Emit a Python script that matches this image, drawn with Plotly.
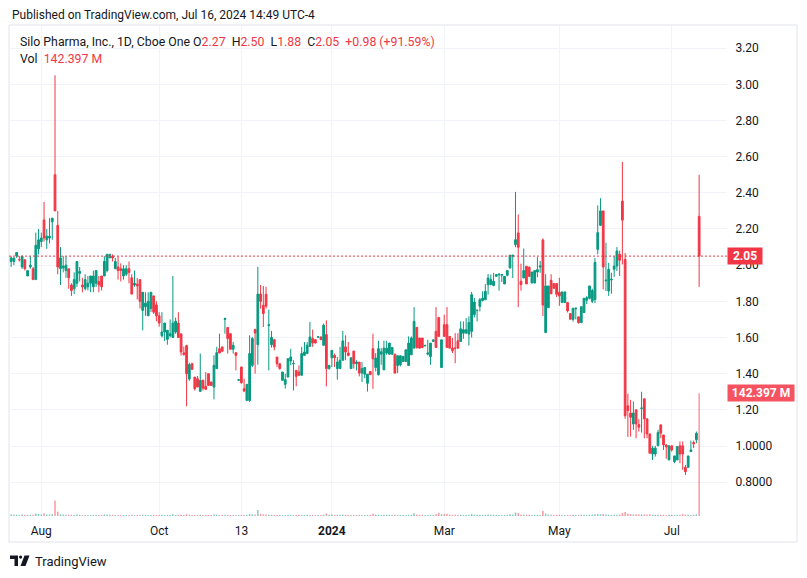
import pandas as pd
import plotly.graph_objects as go

# ---------------- data ----------------
holidays = ["2023-09-04", "2023-11-23", "2023-12-25", "2024-01-01", "2024-01-15",
            "2024-02-19", "2024-03-29", "2024-05-27", "2024-06-19", "2024-07-04"]
dates = pd.bdate_range("2023-07-17", "2024-07-16", freq="C",
                       holidays=holidays).strftime("%Y-%m-%d").tolist()

opens = [
    2.02, 2.02, 2.05, 2.03, 1.99, 2.03, 1.94, 1.99, 1.98, 1.92,
    2.09, 2.13, 2.25, 2.14, 2.15, 2.24, 2.50, 2.22, 1.98, 1.985,
    1.97, 1.98, 1.89, 1.87, 1.90, 1.955, 1.89, 1.87, 1.88, 1.90,
    1.88, 1.90, 1.91, 1.94, 1.94, 1.97, 2.04, 2.05, 1.98, 1.99,
    1.98, 1.94, 1.95, 1.98, 1.93, 1.89, 1.895, 1.92, 1.75, 1.77,
    1.72, 1.76, 1.83, 1.78, 1.72, 1.61, 1.63, 1.59, 1.61, 1.60,
    1.63, 1.68, 1.62, 1.515, 1.555, 1.37, 1.455, 1.381, 1.372, 1.302,
    1.363, 1.330, 1.400, 1.354, 1.326, 1.428, 1.538, 1.548, 1.700, 1.655,
    1.621, 1.535, 1.516, 1.364, 1.437, 1.317, 1.252, 1.252, 1.446, 1.645,
    1.56, 1.84, 1.778, 1.839, 1.666, 1.56, 1.588, 1.492, 1.455, 1.363,
    1.341, 1.381, 1.470, 1.454, 1.418, 1.409, 1.391, 1.501, 1.511, 1.551,
    1.594, 1.588, 1.602, 1.603, 1.557, 1.616, 1.428, 1.488, 1.501, 1.428,
    1.428, 1.474, 1.548, 1.514, 1.428, 1.525, 1.455, 1.464, 1.403, 1.397,
    1.347, 1.412, 1.538, 1.434, 1.394, 1.508, 1.421, 1.514, 1.508, 1.508,
    1.508, 1.445, 1.449, 1.467, 1.467, 1.445, 1.504, 1.541, 1.656, 1.597,
    1.597, 1.554, 1.508, 1.495, 1.578, 1.634, 1.711, 1.434, 1.671, 1.671,
    1.606, 1.541, 1.542, 1.582, 1.578, 1.624, 1.624, 1.619, 1.634, 1.726,
    1.749, 1.772, 1.804, 1.809, 1.892, 1.892, 1.888, 1.938, 1.947, 1.944,
    1.896, 1.944, 1.984, 2.049, 2.114, 2.178, 1.911, 1.929, 1.994, 1.988,
    1.901, 1.901, 1.962, 1.99, 2.139, 1.627, 1.765, 1.916, 1.898, 1.898,
    1.85, 1.793, 1.793, 1.793, 1.732, 1.70, 1.758, 1.714, 1.682, 1.738,
    1.806, 1.817, 1.80, 1.81, 2.087, 2.22, 2.30, 1.913, 1.857, 1.918,
    1.977, 1.995, 2.06, 2.354, 2.032, 1.222, 1.182, 1.122, 1.20, 1.119,
    1.208, 1.261, 1.150, 1.067, 0.956, 0.956, 1.001, 1.117, 1.061, 1.005,
    0.923, 1.001, 0.914, 0.923, 1.001, 1.001, 0.882, 0.882, 0.969, 1.019,
    1.034, 2.27,
]
highs = [
    2.05, 2.04, 2.07, 2.05, 2.05, 2.03, 1.97, 2.05, 1.99, 2.18,
    2.20, 2.18, 2.35, 2.20, 2.26, 2.26, 3.05, 2.30, 2.10, 2.05,
    2.05, 1.98, 1.90, 1.96, 2.02, 1.99, 1.93, 1.95, 1.94, 1.94,
    1.97, 1.97, 1.94, 1.94, 2.05, 2.06, 2.06, 2.06, 2.04, 2.05,
    2.01, 2.00, 2.00, 2.02, 1.95, 1.97, 1.93, 1.92, 1.85, 1.85,
    1.85, 1.85, 1.83, 1.80, 1.74, 1.74, 1.68, 1.64, 1.70, 1.94,
    1.71, 1.74, 1.62, 1.55, 1.56, 1.46, 1.46, 1.381, 1.387, 1.511,
    1.368, 1.409, 1.400, 1.354, 1.501, 1.548, 1.621, 1.548, 1.71, 1.655,
    1.621, 1.575, 1.516, 1.37, 1.437, 1.372, 1.341, 1.612, 1.603, 1.645,
    1.99, 1.89, 1.885, 1.880, 1.754, 1.636, 1.588, 1.492, 1.455, 1.409,
    1.40, 1.483, 1.538, 1.474, 1.418, 1.446, 1.548, 1.575, 1.575, 1.686,
    1.644, 1.588, 1.605, 1.605, 1.677, 1.695, 1.446, 1.529, 1.511, 1.492,
    1.548, 1.636, 1.612, 1.575, 1.488, 1.525, 1.474, 1.464, 1.464, 1.434,
    1.397, 1.412, 1.621, 1.514, 1.582, 1.541, 1.582, 1.582, 1.569, 1.545,
    1.508, 1.499, 1.499, 1.499, 1.532, 1.606, 1.606, 1.768, 1.656, 1.597,
    1.597, 1.56, 1.587, 1.569, 1.587, 1.768, 1.711, 1.587, 1.726, 1.768,
    1.606, 1.597, 1.624, 1.624, 1.689, 1.689, 1.707, 1.717, 1.852, 1.818,
    1.751, 1.818, 1.855, 1.896, 1.951, 1.948, 1.957, 1.951, 1.957, 1.951,
    1.938, 1.970, 2.055, 2.055, 2.405, 2.280, 2.008, 2.092, 1.994, 1.994,
    1.962, 1.970, 2.044, 2.023, 2.148, 1.95, 1.885, 1.95, 1.898, 1.898,
    1.93, 1.852, 1.852, 1.793, 1.732, 1.762, 1.762, 1.714, 1.770, 1.817,
    1.829, 1.885, 1.87, 2.04, 2.33, 2.37, 2.30, 2.124, 2.013, 1.958,
    2.05, 2.10, 2.08, 2.571, 2.067, 1.289, 1.255, 1.246, 1.20, 1.148,
    1.30, 1.261, 1.150, 1.067, 1.001, 1.001, 1.089, 1.117, 1.061, 1.01,
    1.001, 1.001, 0.945, 0.997, 1.025, 1.025, 0.895, 0.945, 1.030, 1.030,
    1.080, 2.50,
]
lows = [
    1.99, 2.00, 2.04, 2.02, 1.98, 1.97, 1.94, 1.98, 1.92, 1.92,
    2.06, 2.10, 2.13, 2.09, 2.12, 2.14, 2.30, 1.95, 1.89, 1.96,
    1.93, 1.87, 1.83, 1.84, 1.88, 1.91, 1.85, 1.86, 1.86, 1.85,
    1.85, 1.88, 1.85, 1.86, 1.94, 1.96, 2.04, 2.02, 1.98, 1.92,
    1.91, 1.92, 1.94, 1.90, 1.84, 1.88, 1.81, 1.76, 1.64, 1.72,
    1.72, 1.74, 1.73, 1.69, 1.66, 1.60, 1.58, 1.56, 1.60, 1.60,
    1.62, 1.60, 1.50, 1.50, 1.22, 1.36, 1.42, 1.307, 1.326, 1.302,
    1.307, 1.313, 1.335, 1.335, 1.258, 1.428, 1.514, 1.52, 1.621, 1.511,
    1.535, 1.511, 1.418, 1.36, 1.344, 1.298, 1.252, 1.243, 1.437, 1.40,
    1.45, 1.76, 1.658, 1.760, 1.418, 1.544, 1.529, 1.437, 1.422, 1.363,
    1.317, 1.381, 1.446, 1.307, 1.330, 1.391, 1.391, 1.501, 1.511, 1.551,
    1.548, 1.566, 1.60, 1.588, 1.557, 1.330, 1.422, 1.437, 1.437, 1.367,
    1.428, 1.474, 1.474, 1.496, 1.428, 1.428, 1.418, 1.385, 1.354, 1.375,
    1.301, 1.394, 1.316, 1.412, 1.390, 1.449, 1.421, 1.504, 1.504, 1.504,
    1.403, 1.403, 1.440, 1.467, 1.467, 1.445, 1.504, 1.541, 1.538, 1.541,
    1.541, 1.55, 1.501, 1.449, 1.578, 1.545, 1.606, 1.434, 1.606, 1.545,
    1.541, 1.514, 1.458, 1.541, 1.578, 1.593, 1.624, 1.556, 1.600, 1.711,
    1.689, 1.744, 1.800, 1.809, 1.837, 1.892, 1.883, 1.938, 1.859, 1.907,
    1.896, 1.938, 1.984, 1.929, 2.099, 1.768, 1.859, 1.929, 1.896, 1.938,
    1.901, 1.901, 1.933, 1.958, 1.719, 1.627, 1.765, 1.84, 1.87, 1.824,
    1.775, 1.793, 1.793, 1.738, 1.701, 1.688, 1.70, 1.677, 1.682, 1.738,
    1.785, 1.811, 1.79, 1.79, 2.06, 2.22, 1.866, 1.857, 1.83, 1.842,
    1.935, 1.967, 1.94, 2.004, 1.15, 1.05, 1.052, 1.089, 1.043, 1.08,
    1.074, 1.043, 1.043, 0.960, 0.923, 0.941, 1.001, 1.043, 0.978, 0.93,
    0.923, 0.969, 0.905, 0.923, 0.905, 0.868, 0.840, 0.882, 0.969, 0.988,
    1.015, 1.88,
]
closes = [
    2.04, 2.04, 2.07, 2.03, 2.05, 1.98, 1.97, 2.00, 1.92, 2.11,
    2.14, 2.15, 2.15, 2.16, 2.16, 2.26, 2.30, 1.99, 2.04, 1.995,
    2.00, 1.93, 1.86, 1.92, 2.02, 1.965, 1.88, 1.92, 1.90, 1.94,
    1.94, 1.97, 1.89, 1.88, 2.02, 2.06, 2.06, 2.04, 2.02, 1.97,
    1.97, 1.98, 1.98, 1.96, 1.84, 1.90, 1.885, 1.80, 1.85, 1.79,
    1.80, 1.85, 1.74, 1.72, 1.68, 1.63, 1.68, 1.64, 1.62, 1.68,
    1.69, 1.60, 1.52, 1.505, 1.40, 1.45, 1.424, 1.317, 1.326, 1.363,
    1.320, 1.313, 1.335, 1.335, 1.446, 1.516, 1.514, 1.524, 1.705, 1.594,
    1.535, 1.557, 1.501, 1.366, 1.350, 1.304, 1.341, 1.511, 1.594, 1.625,
    1.84, 1.80, 1.732, 1.773, 1.670, 1.60, 1.548, 1.455, 1.428, 1.409,
    1.367, 1.483, 1.492, 1.456, 1.385, 1.391, 1.511, 1.520, 1.557, 1.603,
    1.570, 1.570, 1.604, 1.588, 1.668, 1.428, 1.446, 1.529, 1.488, 1.464,
    1.474, 1.581, 1.520, 1.501, 1.488, 1.455, 1.464, 1.403, 1.428, 1.434,
    1.397, 1.394, 1.482, 1.486, 1.538, 1.521, 1.541, 1.541, 1.569, 1.545,
    1.403, 1.499, 1.499, 1.495, 1.532, 1.569, 1.597, 1.689, 1.545, 1.541,
    1.545, 1.556, 1.514, 1.569, 1.587, 1.545, 1.606, 1.587, 1.606, 1.545,
    1.541, 1.527, 1.540, 1.541, 1.648, 1.643, 1.643, 1.683, 1.837, 1.796,
    1.751, 1.809, 1.818, 1.855, 1.929, 1.920, 1.911, 1.948, 1.949, 1.948,
    1.938, 1.970, 2.055, 2.055, 2.141, 2.099, 1.892, 1.970, 1.896, 1.938,
    1.962, 1.970, 1.975, 1.995, 1.779, 1.885, 1.885, 1.842, 1.872, 1.839,
    1.83, 1.852, 1.852, 1.747, 1.701, 1.762, 1.762, 1.682, 1.770, 1.817,
    1.820, 1.885, 1.86, 2.015, 2.18, 2.30, 1.99, 1.917, 1.977, 1.922,
    1.995, 2.078, 2.027, 2.249, 1.167, 1.196, 1.159, 1.182, 1.122, 1.104,
    1.210, 1.150, 1.067, 0.960, 0.988, 0.988, 1.074, 1.071, 1.006, 0.995,
    1.001, 0.978, 0.945, 0.997, 0.956, 0.956, 0.858, 0.945, 0.978, 1.012,
    1.07, 2.05,
]
volumes_m = [
    1.6, 1.4, 1.5, 1.3, 1.7, 1.5, 1.3, 1.4, 1.5, 3.0,
    2.4, 1.8, 3.2, 1.6, 1.7, 2.2, 18.0, 5.0, 2.0, 1.6,
    1.5, 1.5, 1.4, 1.3, 1.6, 1.3, 1.2, 1.2, 1.3, 1.2,
    1.3, 1.4, 1.2, 1.2, 1.8, 1.6, 1.4, 1.3, 1.2, 1.3,
    1.2, 1.2, 1.2, 1.3, 1.5, 1.2, 1.2, 1.4, 1.6, 1.3,
    1.2, 1.3, 1.2, 1.2, 1.3, 1.5, 1.3, 1.2, 1.2, 2.0,
    1.3, 1.3, 1.4, 1.2, 2.1, 1.5, 1.2, 1.3, 1.2, 1.6,
    1.2, 1.2, 1.2, 1.1, 1.7, 1.6, 1.3, 1.2, 1.5, 1.4,
    1.2, 1.2, 1.3, 1.2, 1.4, 1.3, 1.5, 2.4, 2.1, 1.8,
    7.0, 2.6, 1.8, 1.6, 1.5, 1.3, 1.3, 1.2, 1.2, 1.2,
    1.2, 1.4, 1.3, 1.2, 1.2, 1.4, 1.3, 1.3, 1.5, 1.3,
    1.2, 1.2, 1.1, 1.2, 1.6, 3.0, 1.4, 1.6, 1.3, 1.3,
    1.4, 1.7, 1.4, 1.3, 1.3, 1.3, 1.2, 1.3, 1.3, 1.2,
    1.2, 1.2, 2.6, 1.5, 1.6, 1.3, 1.5, 1.4, 1.3, 1.2,
    1.4, 1.3, 1.2, 1.2, 1.3, 1.5, 1.4, 3.2, 1.8, 1.4,
    1.3, 1.2, 1.2, 1.4, 1.2, 2.1, 3.6, 2.1, 2.0, 2.6,
    1.5, 1.3, 1.4, 1.3, 1.5, 1.3, 1.3, 1.4, 2.2, 1.6,
    1.4, 1.4, 1.3, 1.5, 1.8, 1.5, 1.4, 1.3, 1.3, 1.3,
    1.3, 1.4, 1.9, 1.7, 4.0, 3.6, 1.8, 1.6, 1.5, 1.4,
    1.3, 1.3, 1.4, 1.3, 6.0, 3.0, 1.8, 1.5, 1.3, 1.4,
    1.4, 1.3, 1.2, 1.3, 1.3, 1.4, 1.3, 1.3, 1.5, 1.4,
    1.3, 1.5, 1.4, 2.1, 2.2, 2.0, 2.4, 1.6, 1.5, 1.4,
    1.4, 1.5, 1.6, 3.6, 4.6, 3.0, 2.2, 1.8, 2.1, 1.8,
    1.9, 1.7, 1.6, 2.0, 1.5, 1.4, 1.5, 1.4, 1.4, 1.3,
    1.4, 1.3, 1.3, 1.5, 1.4, 2.2, 1.6, 1.5, 1.3, 1.6,
    2.1, 142.397,
]

tick_dates = ["2023-08-01", "2023-10-02", "2023-11-13", "2024-01-02",
              "2024-03-01", "2024-05-01", "2024-07-01"]
tick_text = ["Aug", "Oct", "13", "<b>2024</b>", "Mar", "May", "Jul"]
price_ticks = [0.8, 1.0, 1.2, 1.4, 1.6, 1.8, 2.0, 2.2, 2.4, 2.6, 2.8, 3.0, 3.2]
price_text = ["0.8000", "1.0000", "1.20", "1.40", "1.60", "1.80", "2.00",
              "2.20", "2.40", "2.60", "2.80", "3.00", "3.20"]

last_close = 2.05
last_volume = 142.397

# ---------------- style ----------------
UP = "#089981"
DOWN = "#F23645"
UP_VOL = "rgba(8,153,129,0.5)"
DOWN_VOL = "rgba(242,54,69,0.5)"
TXT = "#131722"
GRID = "#F0F3FA"
FONT = "Roboto"

FW, FH = 807, 578
L, R, T, B = 9, 727, 26, 516


def px(xp):
    return (xp - L) / (R - L)


def py(yp):
    return (B - yp) / (B - T)


vol_colors = [UP_VOL if c >= o else DOWN_VOL for o, c in zip(opens, closes)]

fig = go.Figure()
fig.add_trace(go.Bar(
    x=dates, y=volumes_m, yaxis="y2", marker_color=vol_colors,
    marker_line_width=0, width=0.55, hoverinfo="skip",
))
fig.add_trace(go.Candlestick(
    x=dates, open=opens, high=highs, low=lows, close=closes,
    increasing=dict(line=dict(color=UP, width=1), fillcolor=UP),
    decreasing=dict(line=dict(color=DOWN, width=1), fillcolor=DOWN),
    whiskerwidth=0, hoverinfo="skip",
))

ymin = 1 - (B - 446) / 180.85
ymax = 1 + (446 - T) / 180.85
xmin = (L - 11.15) / 2.741
xmax = (R - 11.15) / 2.741

fig.update_layout(
    width=FW, height=FH,
    margin=dict(l=L, r=FW - R, t=T, b=FH - B, pad=0),
    paper_bgcolor="white", plot_bgcolor="white",
    showlegend=False, hovermode=False, boxgap=0.2, boxgroupgap=0.2,
    font=dict(family=FONT, color=TXT, size=12),
    xaxis=dict(
        type="category", range=[xmin, xmax], rangeslider=dict(visible=False),
        tickvals=tick_dates, ticktext=tick_text, showgrid=True, gridcolor=GRID,
        gridwidth=1, zeroline=False, showline=False, ticks="outside", ticklen=4,
        tickcolor="rgba(0,0,0,0)", tickfont=dict(family=FONT, size=12, color=TXT),
        fixedrange=True,
    ),
    yaxis=dict(
        side="right", range=[ymin, ymax], tickvals=price_ticks, ticktext=price_text,
        showgrid=True, gridcolor=GRID, gridwidth=1, zeroline=False, showline=False,
        ticks="outside", ticklen=5, tickcolor="rgba(0,0,0,0)",
        tickfont=dict(family=FONT, size=12, color=TXT), fixedrange=True,
    ),
    yaxis2=dict(overlaying="y", range=[0, last_volume / ((B - 393.3) / (B - T))],
                visible=False, fixedrange=True),
)

shapes = []
# chart frame
shapes.append(dict(type="rect", xref="paper", yref="paper",
                   x0=px(9), x1=px(797), y0=py(25), y1=py(542),
                   line=dict(color="#E0E3EB", width=1), layer="below"))
# last price line
shapes.append(dict(type="line", xref="paper", yref="y", x0=0, x1=1,
                   y0=last_close, y1=last_close,
                   line=dict(color=DOWN, width=1, dash="2px,2px")))
# TradingView logo
shapes.append(dict(type="path", xref="paper", yref="paper", fillcolor=TXT, line_width=0,
                   path="M {} {} L {} {} L {} {} L {} {} L {} {} L {} {} Z".format(
                       px(10), py(555.5), px(18), py(555.5), px(18), py(566),
                       px(14.5), py(566), px(14.5), py(559), px(10), py(559))))
shapes.append(dict(type="circle", xref="paper", yref="paper", fillcolor=TXT, line_width=0,
                   x0=px(19), x1=px(22.2), y0=py(555.5), y1=py(558.7)))
shapes.append(dict(type="path", xref="paper", yref="paper", fillcolor=TXT, line_width=0,
                   path="M {} {} L {} {} L {} {} L {} {} Z".format(
                       px(24.5), py(555.5), px(29.5), py(555.5), px(25.5), py(566),
                       px(20.5), py(566))))
fig.update_layout(shapes=shapes)

NB = "\u00a0"
red = lambda s: '<span style="color:{}">{}</span>'.format(DOWN, s)
legend_txt = ("Silo Pharma, Inc., 1D, Cboe One" + NB + "O" + red("2.27") + NB * 2 +
              "H" + red("2.50") + NB * 2 + "L" + red("1.88") + NB * 2 + "C" + red("2.05") +
              NB * 2 + red("+0.98 (+91.59%)"))
ann = [
    dict(text="Published on TradingView.com, Jul 16, 2024 14:49 UTC-4", x=px(10), y=py(15),
         font=dict(size=12, color=TXT, family=FONT)),
    dict(text=legend_txt, x=px(18), y=py(42), font=dict(size=12.3, color=TXT, family=FONT)),
    dict(text="Vol" + NB + NB + red("142.397" + NB + "M"), x=px(18), y=py(59),
         font=dict(size=12.3, color=TXT, family=FONT)),
    dict(text="TradingView", x=px(33), y=py(561), font=dict(size=13, color=TXT, family=FONT)),
]
for a in ann:
    a.update(xref="paper", yref="paper", xanchor="left", yanchor="middle",
             showarrow=False, align="left")
ann.append(dict(text="<b>{:.2f}</b>".format(last_close), xref="paper", yref="y",
                x=1, y=last_close, xanchor="left", yanchor="middle", showarrow=False,
                bgcolor=DOWN, font=dict(size=12, color="white", family=FONT),
                width=32, height=14, borderpad=1, align="center"))
ann.append(dict(text="<b>{}" .format(last_volume) + NB + "M</b>", xref="paper", yref="y2",
                x=1, y=last_volume, xanchor="left", yanchor="middle", showarrow=False,
                bgcolor="#F7525F", font=dict(size=12, color="white", family=FONT),
                width=64, height=14, borderpad=1, align="center"))
fig.update_layout(annotations=ann)

fig.write_html("out.html")
